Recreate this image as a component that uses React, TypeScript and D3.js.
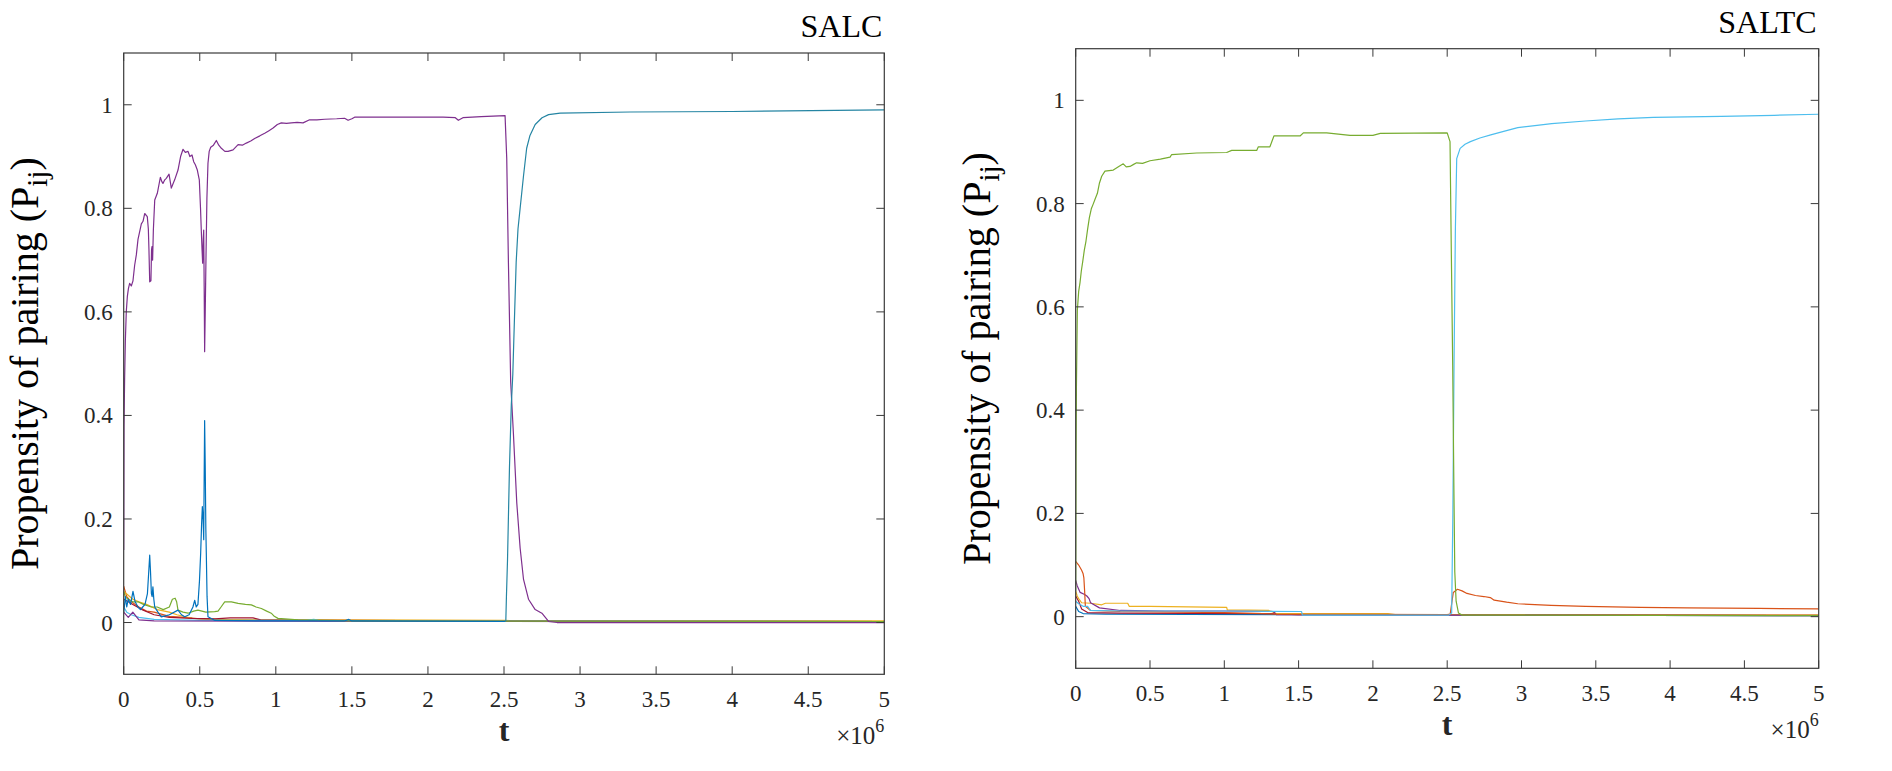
import React from "react";
import * as d3 from "d3";

type Pt = [number, number];

// time is in units of 1e6
const xTicks = [0, 0.5, 1, 1.5, 2, 2.5, 3, 3.5, 4, 4.5, 5];
const yTicks = [0, 0.2, 0.4, 0.6, 0.8, 1];

// ---- SALC ----
const salcOrange: Pt[] = [[0, 0.07], [0.02, 0.05], [0.05, 0.04], [0.1, 0.03], [0.15, 0.022], [0.2, 0.02], [0.3, 0.012], [0.4, 0.01], [0.5, 0.007], [0.7, 0.005], [1, 0.004], [2, 0.003], [5, 0.002]];
const salcYellow: Pt[] = [[0, 0.06], [0.02, 0.055], [0.06, 0.045], [0.1, 0.04], [0.15, 0.035], [0.22, 0.025], [0.3, 0.02], [0.35, 0.015], [0.45, 0.008], [0.6, 0.006], [1, 0.005], [1.5, 0.005], [2.5, 0.004], [3, 0.003], [5, 0.003]];
const salcRed: Pt[] = [[0, 0.045], [0.03, 0.04], [0.06, 0.035], [0.12, 0.025], [0.2, 0.015], [0.3, 0.01], [0.45, 0.008], [0.6, 0.007], [0.7, 0.009], [0.85, 0.009], [0.9, 0.005], [1.2, 0.004], [2.5, 0.003], [5, 0.002]];
const salcLightBlue: Pt[] = [[0, 0.03], [0.02, 0.02], [0.05, 0.015], [0.1, 0.01], [0.2, 0.006], [0.5, 0.004], [1.2, 0.004], [1.25, 0.006], [1.3, 0.003], [5, 0.002]];
const salcPurpleLow: Pt[] = [[0, 0.02], [0.03, 0.01], [0.06, 0.02], [0.1, 0.005], [0.2, 0.003], [5, 0.001]];
const salcGreen: Pt[] = [[0, 0.06], [0.01, 0.05], [0.03, 0.045], [0.06, 0.04], [0.094, 0.04], [0.13, 0.035], [0.182, 0.03], [0.22, 0.03], [0.26, 0.025], [0.3, 0.03], [0.32, 0.045], [0.338, 0.047], [0.348, 0.04], [0.357, 0.024], [0.39, 0.02], [0.423, 0.018], [0.46, 0.022], [0.488, 0.024], [0.54, 0.02], [0.598, 0.021], [0.62, 0.022], [0.64, 0.03], [0.664, 0.04], [0.708, 0.04], [0.752, 0.037], [0.8, 0.035], [0.839, 0.034], [0.87, 0.03], [0.905, 0.027], [0.94, 0.022], [0.97, 0.018], [0.99, 0.012], [1.014, 0.008], [1.146, 0.005], [1.5, 0.003], [5, 0.002]];
const salcBlue: Pt[] = [[0, 0.02], [0.006, 0.035], [0.011, 0.05], [0.02, 0.03], [0.03, 0.045], [0.045, 0.035], [0.061, 0.06], [0.075, 0.04], [0.094, 0.03], [0.11, 0.025], [0.125, 0.03], [0.14, 0.035], [0.156, 0.056], [0.165, 0.1], [0.171, 0.13], [0.176, 0.1], [0.182, 0.056], [0.187, 0.05], [0.192, 0.069], [0.198, 0.045], [0.204, 0.03], [0.225, 0.02], [0.247, 0.011], [0.3, 0.015], [0.357, 0.024], [0.38, 0.015], [0.401, 0.011], [0.43, 0.015], [0.455, 0.03], [0.467, 0.043], [0.477, 0.03], [0.488, 0.035], [0.498, 0.08], [0.506, 0.134], [0.512, 0.19], [0.517, 0.224], [0.522, 0.2], [0.526, 0.16], [0.529, 0.28], [0.532, 0.39], [0.536, 0.3], [0.54, 0.18], [0.543, 0.134], [0.548, 0.05], [0.554, 0.011], [0.6, 0.004], [1, 0.003], [1.45, 0.003], [1.48, 0.006], [1.5, 0.003], [2.507, 0.002]];
const salcTeal: Pt[] = [[2.507, 0.002], [2.512, 0.004], [2.516, 0.05], [2.523, 0.12], [2.536, 0.3], [2.548, 0.42], [2.558, 0.48], [2.568, 0.58], [2.58, 0.696], [2.592, 0.76], [2.606, 0.8], [2.628, 0.862], [2.649, 0.916], [2.67, 0.94], [2.705, 0.962], [2.75, 0.975], [2.793, 0.981], [2.869, 0.984], [3.33, 0.986], [4.0, 0.987], [5, 0.99]];
const salcPurple: Pt[] = [[0, 0.14], [0.002, 0.38], [0.006, 0.47], [0.011, 0.545], [0.017, 0.6], [0.024, 0.63], [0.031, 0.645], [0.039, 0.655], [0.05, 0.65], [0.061, 0.66], [0.072, 0.69], [0.083, 0.71], [0.094, 0.74], [0.105, 0.755], [0.116, 0.77], [0.127, 0.775], [0.138, 0.79], [0.155, 0.784], [0.162, 0.76], [0.166, 0.72], [0.171, 0.658], [0.179, 0.66], [0.183, 0.72], [0.186, 0.726], [0.19, 0.7], [0.195, 0.758], [0.204, 0.816], [0.221, 0.829], [0.241, 0.86], [0.25, 0.852], [0.258, 0.848], [0.27, 0.855], [0.28, 0.858], [0.298, 0.866], [0.313, 0.839], [0.325, 0.848], [0.335, 0.855], [0.357, 0.874], [0.374, 0.9], [0.39, 0.914], [0.405, 0.908], [0.423, 0.91], [0.435, 0.9], [0.449, 0.903], [0.46, 0.89], [0.471, 0.884], [0.484, 0.874], [0.497, 0.855], [0.505, 0.8], [0.51, 0.758], [0.515, 0.72], [0.519, 0.694], [0.523, 0.74], [0.526, 0.758], [0.529, 0.65], [0.532, 0.523], [0.536, 0.6], [0.541, 0.706], [0.547, 0.82], [0.554, 0.887], [0.562, 0.91], [0.572, 0.918], [0.59, 0.922], [0.609, 0.931], [0.625, 0.922], [0.642, 0.916], [0.665, 0.91], [0.686, 0.91], [0.719, 0.913], [0.752, 0.923], [0.78, 0.922], [0.806, 0.926], [0.835, 0.93], [0.861, 0.935], [0.895, 0.94], [0.927, 0.945], [0.955, 0.95], [0.982, 0.955], [1.01, 0.962], [1.036, 0.965], [1.07, 0.964], [1.102, 0.965], [1.14, 0.966], [1.179, 0.965], [1.222, 0.971], [1.27, 0.971], [1.321, 0.972], [1.4, 0.973], [1.452, 0.974], [1.475, 0.97], [1.5, 0.973], [1.518, 0.976], [1.672, 0.976], [1.9, 0.976], [2.1, 0.976], [2.18, 0.975], [2.2, 0.97], [2.23, 0.975], [2.35, 0.977], [2.507, 0.979], [2.518, 0.896], [2.529, 0.696], [2.544, 0.464], [2.562, 0.364], [2.584, 0.231], [2.606, 0.144], [2.628, 0.084], [2.661, 0.045], [2.705, 0.025], [2.749, 0.018], [2.793, 0.002], [2.848, 0], [5, 0]];

// ---- SALTC ----
const saltcBlue: Pt[] = [[0, 0.02], [0.02, 0.01], [0.05, 0.006], [0.2, 0.005], [1.35, 0.004], [5, 0.002]];
const saltcRed: Pt[] = [[0, 0.04], [0.02, 0.03], [0.04, 0.015], [0.08, 0.008], [0.3, 0.007], [1.3, 0.006], [1.5, 0.004], [2.5, 0.004], [5, 0.003]];
const saltcYellow: Pt[] = [[0, 0.05], [0.01, 0.04], [0.02, 0.035], [0.04, 0.027], [0.1, 0.026], [0.175, 0.023], [0.2, 0.026], [0.35, 0.026], [0.36, 0.02], [0.5, 0.02], [1.016, 0.018], [1.02, 0.013], [1.3, 0.012], [1.35, 0.006], [1.7, 0.006], [2.1, 0.006], [2.15, 0.004], [5, 0.003]];
const saltcPurple: Pt[] = [[0, 0.07], [0.01, 0.06], [0.03, 0.047], [0.06, 0.043], [0.075, 0.04], [0.09, 0.035], [0.1, 0.027], [0.16, 0.017], [0.3, 0.012], [0.6, 0.011], [1.0, 0.011], [1.33, 0.01], [1.35, 0.004], [2.5, 0.003], [5, 0.002]];
const saltcOrange: Pt[] = [[0, 0.107], [0.02, 0.1], [0.04, 0.09], [0.05, 0.083], [0.055, 0.075], [0.06, 0.05], [0.065, 0.02], [0.1, 0.012], [0.3, 0.01], [1, 0.008], [1.35, 0.005], [2.5, 0.004], [2.52, 0.005], [2.541, 0.047], [2.569, 0.053], [2.6, 0.05], [2.633, 0.045], [2.69, 0.041], [2.747, 0.039], [2.79, 0.037], [2.816, 0.032], [2.9, 0.028], [2.975, 0.025], [3.2, 0.022], [3.431, 0.02], [3.8, 0.018], [4.115, 0.017], [4.6, 0.016], [5, 0.015]];
const saltcLightBlue: Pt[] = [[0, 0.03], [0.02, 0.025], [0.05, 0.02], [0.08, 0.02], [0.1, 0.012], [0.3, 0.011], [1.0, 0.011], [1.52, 0.01], [1.525, 0.003], [2.51, 0.003], [2.53, 0.007], [2.538, 0.2], [2.546, 0.487], [2.555, 0.75], [2.564, 0.887], [2.587, 0.907], [2.62, 0.915], [2.656, 0.92], [2.72, 0.927], [2.793, 0.933], [2.88, 0.94], [2.975, 0.947], [3.09, 0.951], [3.203, 0.955], [3.431, 0.96], [3.65, 0.964], [3.887, 0.967], [4.344, 0.969], [4.7, 0.971], [5, 0.973]];
const saltcGreen: Pt[] = [[0, 0.05], [0.002, 0.3], [0.005, 0.45], [0.011, 0.593], [0.02, 0.63], [0.029, 0.647], [0.038, 0.67], [0.047, 0.687], [0.058, 0.71], [0.069, 0.727], [0.08, 0.75], [0.092, 0.773], [0.105, 0.79], [0.119, 0.8], [0.132, 0.81], [0.146, 0.82], [0.16, 0.84], [0.175, 0.853], [0.197, 0.863], [0.225, 0.864], [0.253, 0.865], [0.29, 0.872], [0.32, 0.877], [0.34, 0.871], [0.365, 0.872], [0.39, 0.876], [0.41, 0.879], [0.45, 0.878], [0.5, 0.883], [0.57, 0.886], [0.635, 0.89], [0.646, 0.895], [0.814, 0.898], [1.016, 0.899], [1.05, 0.903], [1.218, 0.903], [1.229, 0.91], [1.307, 0.91], [1.334, 0.931], [1.51, 0.931], [1.532, 0.937], [1.689, 0.937], [1.846, 0.932], [2.0, 0.932], [2.05, 0.936], [2.5, 0.937], [2.519, 0.92], [2.528, 0.7], [2.537, 0.487], [2.545, 0.25], [2.551, 0.087], [2.56, 0.03], [2.576, 0.007], [2.6, 0.003], [5, 0.002]];

const salcLines = [
  { color: "#D95319", data: salcOrange },
  { color: "#EDB120", data: salcYellow },
  { color: "#A2142F", data: salcRed },
  { color: "#4DBEEE", data: salcLightBlue },
  { color: "#7E2F8E", data: salcPurpleLow },
  { color: "#77AC30", data: salcGreen },
  { color: "#0072BD", data: salcBlue },
  { color: "#7E2F8E", data: salcPurple },
  { color: "#2585A3", data: salcTeal },
];

const saltcLines = [
  { color: "#0072BD", data: saltcBlue },
  { color: "#A2142F", data: saltcRed },
  { color: "#EDB120", data: saltcYellow },
  { color: "#7E2F8E", data: saltcPurple },
  { color: "#D95319", data: saltcOrange },
  { color: "#4DBEEE", data: saltcLightBlue },
  { color: "#77AC30", data: saltcGreen },
];

const FONT = "'Liberation Serif', 'Times New Roman', 'DejaVu Serif', serif";
const INK = "#262626";

interface PanelProps {
  x0: number; x1: number; y0: number; y1: number;
  title: string;
  lines: { color: string; data: Pt[] }[];
  id: string;
}

const Panel: React.FC<PanelProps> = ({ x0, x1, y0, y1, title, lines, id }) => {
  const xScale = d3.scaleLinear().domain([0, 5]).range([x0, x1]);
  const yScale = d3.scaleLinear().domain([-0.1, 1.1]).range([y1, y0]);
  const lineGen = d3.line<Pt>().x((d) => xScale(d[0])).y((d) => yScale(d[1]));
  const tk = 8;
  const cy = (y0 + y1) / 2;

  return (
    <g>
      <defs>
        <clipPath id={id}>
          <rect x={x0} y={y0} width={x1 - x0} height={y1 - y0} />
        </clipPath>
      </defs>
      <g clipPath={`url(#${id})`}>
        {lines.map((s, i) => (
          <path key={i} d={lineGen(s.data) || ""} fill="none" stroke={s.color} strokeWidth={1.2} strokeLinejoin="round" />
        ))}
      </g>
      <rect x={x0} y={y0} width={x1 - x0} height={y1 - y0} fill="none" stroke="#3a3a3a" strokeWidth={1.2} />
      {xTicks.map((t) => (
        <g key={"x" + t}>
          <line x1={xScale(t)} x2={xScale(t)} y1={y1} y2={y1 - tk} stroke="#3a3a3a" />
          <line x1={xScale(t)} x2={xScale(t)} y1={y0} y2={y0 + tk} stroke="#3a3a3a" />
          <text x={xScale(t)} y={y1 + 33} textAnchor="middle" fontFamily={FONT} fontSize={23} fill={INK}>{String(t)}</text>
        </g>
      ))}
      {yTicks.map((v) => (
        <g key={"y" + v}>
          <line x1={x0} x2={x0 + tk} y1={yScale(v)} y2={yScale(v)} stroke="#3a3a3a" />
          <line x1={x1} x2={x1 - tk} y1={yScale(v)} y2={yScale(v)} stroke="#3a3a3a" />
          <text x={x0 - 11} y={yScale(v)} dy="0.35em" textAnchor="end" fontFamily={FONT} fontSize={23} fill={INK}>{String(+v.toFixed(1))}</text>
        </g>
      ))}
      <text x={x1 - 2} y={y0 - 16} textAnchor="end" fontFamily={FONT} fontSize={32} fill="#000">{title}</text>
      <text x={(x0 + x1) / 2} y={y1 + 67} textAnchor="middle" fontFamily={FONT} fontSize={32} fontWeight="bold" fill={INK}>t</text>
      <text x={x1} y={y1 + 70} textAnchor="end" fontFamily={FONT} fontSize={25} fill={INK}>
        ×10<tspan dy={-12} fontSize={18}>6</tspan>
      </text>
      <text transform={`translate(${x0 - 86},${cy}) rotate(-90)`} textAnchor="middle" fontFamily={FONT} fontSize={40} fill="#000">
        Propensity of pairing (P<tspan dy={9} fontSize={29}>ij</tspan><tspan dy={-9}>)</tspan>
      </text>
    </g>
  );
};

export default function App() {
  return (
    <svg width={1892} height={771} style={{ position: "absolute", left: 0, top: 0, background: "#fff" }}>
      <rect width={1892} height={771} fill="#fff" />
      <Panel id="clipL" x0={123.7} x1={884.3} y0={53} y1={674.3} title="SALC" lines={salcLines} />
      <Panel id="clipR" x0={1075.7} x1={1818.7} y0={48.7} y1={668.3} title="SALTC" lines={saltcLines} />
    </svg>
  );
}
